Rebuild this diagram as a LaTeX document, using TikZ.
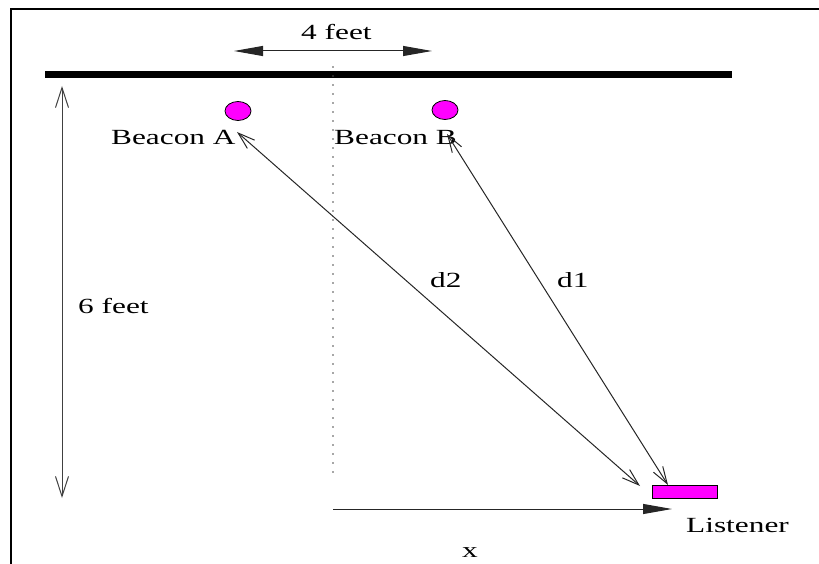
\documentclass[tikz,border=0pt]{standalone}
\usepackage{fontspec}
\setmainfont{Liberation Serif}[FakeStretch=1.45]
\usetikzlibrary{arrows.meta,shapes.geometric}
\definecolor{beacon}{HTML}{FF00FF}
\begin{document}
\begin{tikzpicture}[x=1pt,y=-1pt,
  lbl/.style={inner sep=0pt,anchor=base west,font=\fontsize{21.6}{26}\selectfont},
  conn/.style={line width=1pt,draw=black!85},
  barb/.style={{Straight Barb[length=17pt,width=11pt,line width=1pt]}-{Straight Barb[length=17pt,width=11pt,line width=1pt]}},
  tri/.style={-{Triangle[length=29pt,width=10pt]}},
  twotri/.style={{Triangle[length=29pt,width=10pt]}-{Triangle[length=29pt,width=10pt]}},
  dottedline/.style={line width=1.6pt,draw=black!70,dash pattern=on 0pt off 9pt,line cap=round},
  beaconshape/.style={ellipse,draw=black,line width=0.8pt,fill=beacon,minimum width=26pt,minimum height=19pt,inner sep=0pt},
]
\useasboundingbox (0,0) rectangle (819,564);
\clip (0,0) rectangle (819,564);
% frame
\draw[line width=2pt] (11,9) rectangle (900,700);
% wall bar
\coordinate (wallL) at (45,75);
\coordinate (wallR) at (732,75);
\draw[line width=7pt] (wallL) -- (wallR);
% 4 feet
\coordinate (fourL) at (234,51);
\coordinate (fourR) at (432,51);
\draw[conn,twotri] (fourL) -- (fourR);
\node[lbl] (fourlbl) at (301,40) {4 feet};
% centre dotted line
\coordinate (dotT) at (333,67);
\coordinate (dotB) at (333,480);
\draw[dottedline] (dotT) -- (dotB);
% beacons
\node[beaconshape] (bA) at (238,111) {};
\node[beaconshape] (bB) at (445,110) {};
\node[lbl] (bAlbl) at (111,145) {Beacon A};
\node[lbl] (bBlbl) at (334,145) {Beacon B};
% listener
\node[draw=black,line width=0.8pt,fill=beacon,minimum width=65pt,minimum height=13pt,inner sep=0pt] (lis) at (684.5,491.5) {};
\node[lbl] (lislbl) at (686,532) {Listener};
% distance arrows
\coordinate (d2top) at (237,132);
\coordinate (d2bot) at (640,486);
\coordinate (d1top) at (447,134);
\coordinate (d1bot) at (668,485);
\draw[conn,barb] (d2top) -- (d2bot);
\draw[conn,barb] (d1top) -- (d1bot);
\node[lbl] (d2lbl) at (430,287) {d2};
\node[lbl] (d1lbl) at (557,287) {d1};
% 6 feet
\coordinate (sixT) at (62,86);
\coordinate (sixB) at (62,498);
\draw[conn,draw=black!75,{Straight Barb[length=20pt,width=13pt,line width=1pt]}-{Straight Barb[length=20pt,width=13pt,line width=1pt]}] (sixT) -- (sixB);
\node[lbl] (sixlbl) at (78,313) {6 feet};
% x arrow
\coordinate (xL) at (333,509);
\coordinate (xR) at (672,509);
\draw[conn,tri] (xL) -- (xR);
\node[lbl] (xlbl) at (462,557) {x};
\end{tikzpicture}
\end{document}
